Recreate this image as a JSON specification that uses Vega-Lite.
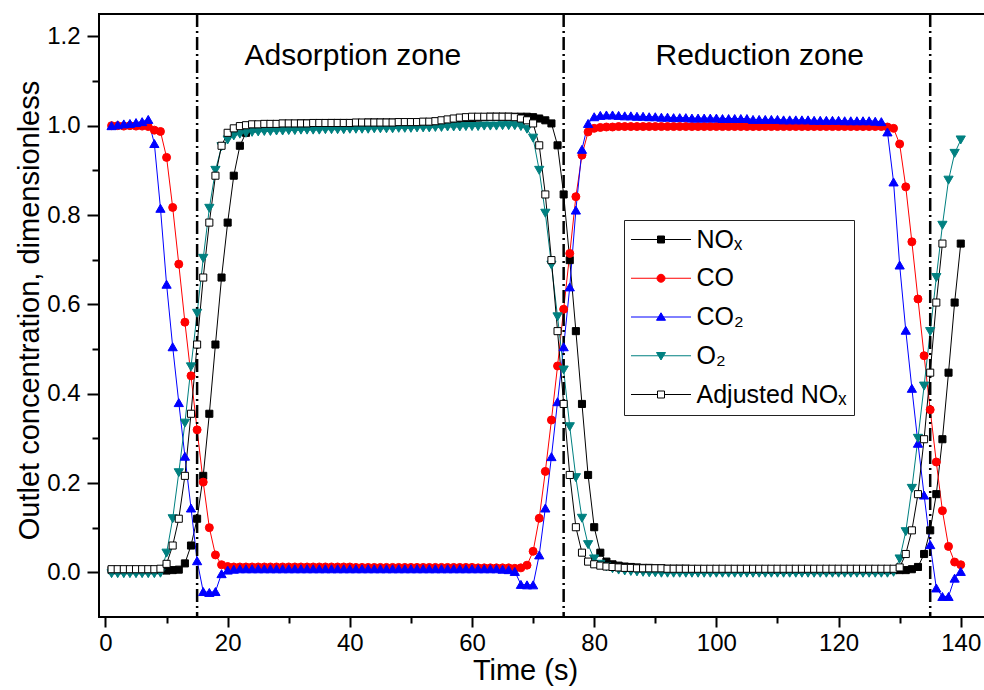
{
"$schema":"https://vega.github.io/schema/vega-lite/v6.json",
"width":886,"height":603,
"autosize":{"type":"none"},
"padding":{"left":99,"top":14,"right":0,"bottom":73},
"background":"white",
"config":{"font":"Liberation Sans","view":{"stroke":"black","strokeWidth":2}},
"datasets":{
"series":[{"series":"NOx","idx":1},{"series":"CO","idx":2},{"series":"CO2","idx":3},{"series":"O2","idx":4},{"series":"AdjNOx","idx":5}],
"cycles":[{"t":15},{"t":75},{"t":135}],
"zones":[{"label":"Adsorption zone","t":40.5,"v":1.136},{"label":"Reduction zone","t":107.1,"v":1.136}],
"conc":[
{"t":1,"NOx":0.005,"CO":1,"CO2":1,"O2":-0.003,"AdjNOx":0.007},
{"t":2,"NOx":0.005,"CO":1,"CO2":1.002,"O2":-0.003,"AdjNOx":0.007},
{"t":3,"NOx":0.005,"CO":0.999,"CO2":1.004,"O2":-0.003,"AdjNOx":0.007},
{"t":4,"NOx":0.005,"CO":1,"CO2":1.005,"O2":-0.003,"AdjNOx":0.007},
{"t":5,"NOx":0.005,"CO":0.999,"CO2":1.007,"O2":-0.003,"AdjNOx":0.007},
{"t":6,"NOx":0.005,"CO":0.999,"CO2":1.009,"O2":-0.003,"AdjNOx":0.007},
{"t":7,"NOx":0.005,"CO":0.998,"CO2":1.014,"O2":-0.003,"AdjNOx":0.007},
{"t":8,"NOx":0.005,"CO":0.99,"CO2":0.96,"O2":-0.003,"AdjNOx":0.007},
{"t":9,"NOx":0.005,"CO":0.987,"CO2":0.815,"O2":-0.002,"AdjNOx":0.008},
{"t":10,"NOx":0.004,"CO":0.929,"CO2":0.645,"O2":0.043,"AdjNOx":0.019},
{"t":11,"NOx":0.005,"CO":0.817,"CO2":0.505,"O2":0.12,"AdjNOx":0.06},
{"t":12,"NOx":0.006,"CO":0.69,"CO2":0.38,"O2":0.223,"AdjNOx":0.12},
{"t":13,"NOx":0.02,"CO":0.56,"CO2":0.26,"O2":0.334,"AdjNOx":0.216},
{"t":14,"NOx":0.06,"CO":0.44,"CO2":0.144,"O2":0.46,"AdjNOx":0.355},
{"t":15,"NOx":0.12,"CO":0.319,"CO2":0.026,"O2":0.58,"AdjNOx":0.51},
{"t":16,"NOx":0.216,"CO":0.202,"CO2":-0.043,"O2":0.703,"AdjNOx":0.66},
{"t":17,"NOx":0.355,"CO":0.1,"CO2":-0.045,"O2":0.815,"AdjNOx":0.783},
{"t":18,"NOx":0.51,"CO":0.039,"CO2":-0.043,"O2":0.9,"AdjNOx":0.888},
{"t":19,"NOx":0.66,"CO":0.017,"CO2":-0.003,"O2":0.953,"AdjNOx":0.955},
{"t":20,"NOx":0.783,"CO":0.013,"CO2":0.005,"O2":0.968,"AdjNOx":0.984},
{"t":21,"NOx":0.888,"CO":0.012,"CO2":0.007,"O2":0.977,"AdjNOx":0.994},
{"t":22,"NOx":0.955,"CO":0.012,"CO2":0.008,"O2":0.981,"AdjNOx":0.999},
{"t":23,"NOx":0.984,"CO":0.012,"CO2":0.008,"O2":0.983,"AdjNOx":1.001},
{"t":24,"NOx":0.994,"CO":0.012,"CO2":0.008,"O2":0.985,"AdjNOx":1.003},
{"t":25,"NOx":0.999,"CO":0.012,"CO2":0.008,"O2":0.986,"AdjNOx":1.003},
{"t":26,"NOx":1.001,"CO":0.012,"CO2":0.008,"O2":0.987,"AdjNOx":1.004},
{"t":27,"NOx":1.003,"CO":0.012,"CO2":0.008,"O2":0.987,"AdjNOx":1.004},
{"t":28,"NOx":1.003,"CO":0.012,"CO2":0.008,"O2":0.988,"AdjNOx":1.004},
{"t":29,"NOx":1.004,"CO":0.012,"CO2":0.008,"O2":0.988,"AdjNOx":1.005},
{"t":30,"NOx":1.004,"CO":0.012,"CO2":0.008,"O2":0.989,"AdjNOx":1.005},
{"t":31,"NOx":1.004,"CO":0.012,"CO2":0.008,"O2":0.989,"AdjNOx":1.005},
{"t":32,"NOx":1.005,"CO":0.012,"CO2":0.008,"O2":0.99,"AdjNOx":1.005},
{"t":33,"NOx":1.005,"CO":0.012,"CO2":0.008,"O2":0.99,"AdjNOx":1.005},
{"t":34,"NOx":1.005,"CO":0.012,"CO2":0.008,"O2":0.99,"AdjNOx":1.006},
{"t":35,"NOx":1.005,"CO":0.012,"CO2":0.008,"O2":0.99,"AdjNOx":1.006},
{"t":36,"NOx":1.005,"CO":0.012,"CO2":0.008,"O2":0.991,"AdjNOx":1.006},
{"t":37,"NOx":1.006,"CO":0.012,"CO2":0.008,"O2":0.991,"AdjNOx":1.006},
{"t":38,"NOx":1.006,"CO":0.012,"CO2":0.008,"O2":0.991,"AdjNOx":1.006},
{"t":39,"NOx":1.006,"CO":0.012,"CO2":0.008,"O2":0.991,"AdjNOx":1.006},
{"t":40,"NOx":1.006,"CO":0.012,"CO2":0.008,"O2":0.992,"AdjNOx":1.006},
{"t":41,"NOx":1.006,"CO":0.011,"CO2":0.008,"O2":0.992,"AdjNOx":1.007},
{"t":42,"NOx":1.006,"CO":0.011,"CO2":0.008,"O2":0.992,"AdjNOx":1.007},
{"t":43,"NOx":1.007,"CO":0.011,"CO2":0.008,"O2":0.992,"AdjNOx":1.007},
{"t":44,"NOx":1.007,"CO":0.011,"CO2":0.008,"O2":0.993,"AdjNOx":1.007},
{"t":45,"NOx":1.007,"CO":0.011,"CO2":0.008,"O2":0.993,"AdjNOx":1.007},
{"t":46,"NOx":1.007,"CO":0.011,"CO2":0.008,"O2":0.993,"AdjNOx":1.007},
{"t":47,"NOx":1.007,"CO":0.011,"CO2":0.008,"O2":0.993,"AdjNOx":1.007},
{"t":48,"NOx":1.007,"CO":0.011,"CO2":0.008,"O2":0.994,"AdjNOx":1.008},
{"t":49,"NOx":1.007,"CO":0.011,"CO2":0.008,"O2":0.994,"AdjNOx":1.008},
{"t":50,"NOx":1.008,"CO":0.011,"CO2":0.008,"O2":0.994,"AdjNOx":1.008},
{"t":51,"NOx":1.008,"CO":0.011,"CO2":0.008,"O2":0.995,"AdjNOx":1.008},
{"t":52,"NOx":1.008,"CO":0.011,"CO2":0.008,"O2":0.995,"AdjNOx":1.009},
{"t":53,"NOx":1.008,"CO":0.011,"CO2":0.008,"O2":0.995,"AdjNOx":1.009},
{"t":54,"NOx":1.009,"CO":0.011,"CO2":0.008,"O2":0.996,"AdjNOx":1.01},
{"t":55,"NOx":1.009,"CO":0.011,"CO2":0.008,"O2":0.996,"AdjNOx":1.012},
{"t":56,"NOx":1.01,"CO":0.011,"CO2":0.008,"O2":0.997,"AdjNOx":1.014},
{"t":57,"NOx":1.01,"CO":0.011,"CO2":0.008,"O2":0.997,"AdjNOx":1.016},
{"t":58,"NOx":1.012,"CO":0.011,"CO2":0.008,"O2":0.997,"AdjNOx":1.018},
{"t":59,"NOx":1.014,"CO":0.011,"CO2":0.008,"O2":0.998,"AdjNOx":1.019},
{"t":60,"NOx":1.016,"CO":0.011,"CO2":0.008,"O2":0.998,"AdjNOx":1.02},
{"t":61,"NOx":1.018,"CO":0.01,"CO2":0.008,"O2":0.998,"AdjNOx":1.02},
{"t":62,"NOx":1.019,"CO":0.01,"CO2":0.008,"O2":0.999,"AdjNOx":1.02},
{"t":63,"NOx":1.02,"CO":0.01,"CO2":0.008,"O2":0.999,"AdjNOx":1.02},
{"t":64,"NOx":1.02,"CO":0.01,"CO2":0.008,"O2":0.999,"AdjNOx":1.02},
{"t":65,"NOx":1.02,"CO":0.01,"CO2":0.007,"O2":1,"AdjNOx":1.02},
{"t":66,"NOx":1.02,"CO":0.01,"CO2":0.006,"O2":1,"AdjNOx":1.02},
{"t":67,"NOx":1.02,"CO":0.009,"CO2":0.002,"O2":1,"AdjNOx":1.019},
{"t":68,"NOx":1.02,"CO":0.01,"CO2":-0.027,"O2":0.998,"AdjNOx":1.016},
{"t":69,"NOx":1.02,"CO":0.016,"CO2":-0.028,"O2":0.992,"AdjNOx":1.012},
{"t":70,"NOx":1.019,"CO":0.047,"CO2":-0.028,"O2":0.972,"AdjNOx":1.005},
{"t":71,"NOx":1.016,"CO":0.121,"CO2":0.039,"O2":0.9,"AdjNOx":0.956},
{"t":72,"NOx":1.012,"CO":0.226,"CO2":0.144,"O2":0.804,"AdjNOx":0.846},
{"t":73,"NOx":1.005,"CO":0.341,"CO2":0.259,"O2":0.688,"AdjNOx":0.699},
{"t":74,"NOx":0.956,"CO":0.462,"CO2":0.382,"O2":0.572,"AdjNOx":0.54},
{"t":75,"NOx":0.846,"CO":0.589,"CO2":0.505,"O2":0.453,"AdjNOx":0.377},
{"t":76,"NOx":0.699,"CO":0.714,"CO2":0.639,"O2":0.326,"AdjNOx":0.218},
{"t":77,"NOx":0.54,"CO":0.841,"CO2":0.811,"O2":0.212,"AdjNOx":0.101},
{"t":78,"NOx":0.377,"CO":0.934,"CO2":0.947,"O2":0.121,"AdjNOx":0.044},
{"t":79,"NOx":0.218,"CO":0.986,"CO2":1.005,"O2":0.062,"AdjNOx":0.024},
{"t":80,"NOx":0.101,"CO":0.994,"CO2":1.02,"O2":0.03,"AdjNOx":0.018},
{"t":81,"NOx":0.044,"CO":0.996,"CO2":1.023,"O2":0.018,"AdjNOx":0.015},
{"t":82,"NOx":0.024,"CO":0.997,"CO2":1.024,"O2":0.012,"AdjNOx":0.013},
{"t":83,"NOx":0.018,"CO":0.997,"CO2":1.024,"O2":0.008,"AdjNOx":0.012},
{"t":84,"NOx":0.015,"CO":0.998,"CO2":1.023,"O2":0.005,"AdjNOx":0.011},
{"t":85,"NOx":0.013,"CO":0.998,"CO2":1.022,"O2":0.003,"AdjNOx":0.01},
{"t":86,"NOx":0.012,"CO":0.998,"CO2":1.022,"O2":0.002,"AdjNOx":0.01},
{"t":87,"NOx":0.011,"CO":0.998,"CO2":1.021,"O2":0.001,"AdjNOx":0.009},
{"t":88,"NOx":0.01,"CO":0.998,"CO2":1.021,"O2":0,"AdjNOx":0.009},
{"t":89,"NOx":0.01,"CO":0.998,"CO2":1.02,"O2":-0.001,"AdjNOx":0.009},
{"t":90,"NOx":0.009,"CO":0.998,"CO2":1.02,"O2":-0.001,"AdjNOx":0.009},
{"t":91,"NOx":0.009,"CO":0.998,"CO2":1.019,"O2":-0.002,"AdjNOx":0.009},
{"t":92,"NOx":0.008,"CO":0.998,"CO2":1.019,"O2":-0.002,"AdjNOx":0.008},
{"t":93,"NOx":0.008,"CO":0.998,"CO2":1.018,"O2":-0.002,"AdjNOx":0.008},
{"t":94,"NOx":0.008,"CO":0.998,"CO2":1.018,"O2":-0.002,"AdjNOx":0.008},
{"t":95,"NOx":0.008,"CO":0.998,"CO2":1.018,"O2":-0.002,"AdjNOx":0.008},
{"t":96,"NOx":0.007,"CO":0.998,"CO2":1.017,"O2":-0.002,"AdjNOx":0.008},
{"t":97,"NOx":0.007,"CO":0.998,"CO2":1.017,"O2":-0.002,"AdjNOx":0.008},
{"t":98,"NOx":0.007,"CO":0.998,"CO2":1.017,"O2":-0.002,"AdjNOx":0.008},
{"t":99,"NOx":0.007,"CO":0.998,"CO2":1.017,"O2":-0.002,"AdjNOx":0.008},
{"t":100,"NOx":0.007,"CO":0.998,"CO2":1.017,"O2":-0.002,"AdjNOx":0.008},
{"t":101,"NOx":0.007,"CO":0.998,"CO2":1.016,"O2":-0.002,"AdjNOx":0.008},
{"t":102,"NOx":0.007,"CO":0.998,"CO2":1.016,"O2":-0.002,"AdjNOx":0.008},
{"t":103,"NOx":0.007,"CO":0.998,"CO2":1.016,"O2":-0.002,"AdjNOx":0.008},
{"t":104,"NOx":0.007,"CO":0.998,"CO2":1.016,"O2":-0.002,"AdjNOx":0.008},
{"t":105,"NOx":0.007,"CO":0.998,"CO2":1.016,"O2":-0.002,"AdjNOx":0.008},
{"t":106,"NOx":0.006,"CO":0.998,"CO2":1.014,"O2":-0.002,"AdjNOx":0.008},
{"t":107,"NOx":0.006,"CO":0.998,"CO2":1.014,"O2":-0.002,"AdjNOx":0.008},
{"t":108,"NOx":0.006,"CO":0.998,"CO2":1.014,"O2":-0.002,"AdjNOx":0.008},
{"t":109,"NOx":0.006,"CO":0.998,"CO2":1.014,"O2":-0.002,"AdjNOx":0.008},
{"t":110,"NOx":0.006,"CO":0.998,"CO2":1.014,"O2":-0.002,"AdjNOx":0.008},
{"t":111,"NOx":0.006,"CO":0.998,"CO2":1.013,"O2":-0.002,"AdjNOx":0.008},
{"t":112,"NOx":0.006,"CO":0.998,"CO2":1.013,"O2":-0.002,"AdjNOx":0.008},
{"t":113,"NOx":0.006,"CO":0.998,"CO2":1.013,"O2":-0.002,"AdjNOx":0.008},
{"t":114,"NOx":0.006,"CO":0.998,"CO2":1.013,"O2":-0.002,"AdjNOx":0.008},
{"t":115,"NOx":0.006,"CO":0.998,"CO2":1.013,"O2":-0.002,"AdjNOx":0.008},
{"t":116,"NOx":0.005,"CO":0.998,"CO2":1.012,"O2":-0.002,"AdjNOx":0.008},
{"t":117,"NOx":0.005,"CO":0.998,"CO2":1.012,"O2":-0.002,"AdjNOx":0.008},
{"t":118,"NOx":0.005,"CO":0.998,"CO2":1.012,"O2":-0.002,"AdjNOx":0.008},
{"t":119,"NOx":0.005,"CO":0.998,"CO2":1.012,"O2":-0.002,"AdjNOx":0.008},
{"t":120,"NOx":0.005,"CO":0.998,"CO2":1.012,"O2":-0.002,"AdjNOx":0.008},
{"t":121,"NOx":0.005,"CO":0.998,"CO2":1.011,"O2":-0.002,"AdjNOx":0.008},
{"t":122,"NOx":0.005,"CO":0.998,"CO2":1.011,"O2":-0.002,"AdjNOx":0.008},
{"t":123,"NOx":0.005,"CO":0.998,"CO2":1.011,"O2":-0.002,"AdjNOx":0.008},
{"t":124,"NOx":0.005,"CO":0.998,"CO2":1.011,"O2":-0.002,"AdjNOx":0.008},
{"t":125,"NOx":0.005,"CO":0.998,"CO2":1.011,"O2":-0.002,"AdjNOx":0.008},
{"t":126,"NOx":0.005,"CO":0.998,"CO2":1.01,"O2":-0.002,"AdjNOx":0.008},
{"t":127,"NOx":0.005,"CO":0.998,"CO2":1.009,"O2":-0.002,"AdjNOx":0.008},
{"t":128,"NOx":0.005,"CO":0.997,"CO2":0.986,"O2":-0.002,"AdjNOx":0.008},
{"t":129,"NOx":0.005,"CO":0.994,"CO2":0.874,"O2":0,"AdjNOx":0.008},
{"t":130,"NOx":0.005,"CO":0.959,"CO2":0.688,"O2":0.03,"AdjNOx":0.011},
{"t":131,"NOx":0.005,"CO":0.863,"CO2":0.542,"O2":0.091,"AdjNOx":0.041},
{"t":132,"NOx":0.007,"CO":0.74,"CO2":0.412,"O2":0.188,"AdjNOx":0.094},
{"t":133,"NOx":0.012,"CO":0.612,"CO2":0.289,"O2":0.3,"AdjNOx":0.175},
{"t":134,"NOx":0.041,"CO":0.485,"CO2":0.173,"O2":0.417,"AdjNOx":0.298},
{"t":135,"NOx":0.094,"CO":0.364,"CO2":0.062,"O2":0.539,"AdjNOx":0.447},
{"t":136,"NOx":0.175,"CO":0.247,"CO2":-0.035,"O2":0.66,"AdjNOx":0.604},
{"t":137,"NOx":0.298,"CO":0.138,"CO2":-0.054,"O2":0.777,"AdjNOx":0.736},
{"t":138,"NOx":0.447,"CO":0.058,"CO2":-0.054,"O2":0.878,"AdjNOx":null},
{"t":139,"NOx":0.604,"CO":0.023,"CO2":-0.013,"O2":0.938,"AdjNOx":null},
{"t":140,"NOx":0.736,"CO":0.017,"CO2":0.002,"O2":0.968,"AdjNOx":null}
]},
"layer":[
{"data":{"name":"conc"},
 "transform":[{"fold":["NOx","CO","CO2","O2","AdjNOx"],"as":["key","v"]}],
 "mark":{"type":"line","strokeWidth":1},
 "encoding":{
  "x":{"field":"t","type":"quantitative","scale":{"domain":[-1.06,143.97],"nice":false,"zero":false},
   "axis":{"title":"Time (s)","values":[0,10,20,30,40,50,60,70,80,90,100,110,120,130,140],"format":"d",
    "labelExpr":"datum.value % 20 == 0 ? datum.label : ''",
    "tickSize":{"condition":{"test":"datum.value % 20 == 0","value":10},"value":6},
    "tickWidth":2,"tickColor":"black",
    "domain":false,"grid":false,"labelFont":"Liberation Sans","labelFontSize":24,"labelColor":"black","labelPadding":4,"labelOverlap":false,"labelFlush":false,
    "titleFont":"Liberation Sans","titleFontSize":29,"titleFontWeight":"normal","titleColor":"black","titleAlign":"center","titleBaseline":"alphabetic","titleX":426,"titleY":62}},
  "y":{"field":"v","type":"quantitative","scale":{"domain":[-0.1,1.25],"nice":false,"zero":false},
   "axis":{"title":"Outlet concentration, dimensionless","values":[0,0.1,0.2,0.3,0.4,0.5,0.6,0.7,0.8,0.9,1,1.1,1.2],"format":".1f",
    "labelExpr":"round(datum.value*10) % 2 == 0 ? datum.label : ''",
    "tickSize":{"condition":{"test":"round(datum.value*10) % 2 == 0","value":12},"value":7},
    "tickWidth":2,"tickColor":"black",
    "domain":false,"grid":false,"labelFont":"Liberation Sans","labelFontSize":24,"labelColor":"black","labelPadding":7,"labelOverlap":false,"labelFlush":false,
    "titleFont":"Liberation Sans","titleFontSize":29,"titleFontWeight":"normal","titleColor":"black","titleAngle":270,"titleAlign":"center","titleBaseline":"alphabetic","titleX":-61,"titleY":296}},
  "stroke":{"field":"key","type":"nominal",
   "scale":{"domain":["NOx","CO","CO2","O2","AdjNOx"],"range":["#000000","#ff0000","#0000ff","#008080","#000000"]},
   "legend":{"title":null,"orient":"none","legendX":525,"legendY":206,"direction":"vertical",
    "strokeColor":"#222222","fillColor":"white","padding":7,"rowPadding":12.75,
    "symbolSize":100,"symbolStrokeWidth":1,"symbolOffset":17.5,"labelOffset":23,
    "labelFont":"Liberation Sans","labelFontSize":25,"labelColor":"black","labelLimit":400,
    "labelExpr":"datum.label == 'NOx' ? 'NOₓ' : datum.label == 'CO2' ? 'CO₂' : datum.label == 'O2' ? 'O₂' : datum.label == 'AdjNOx' ? 'Adjusted NOₓ' : datum.label",
    "encode":{"symbols":{"update":{
      "shape":{"signal":"datum.value == 'NOx' ? 'M-6,0H6M-0.7,-0.7H0.7V0.7H-0.7Z' : datum.value == 'AdjNOx' ? 'M-6,0H-0.7M0.7,0H6M-0.7,-0.7H0.7V0.7H-0.7Z' : datum.value == 'CO' ? 'M-6,0H6M-0.8,0A0.8,0.8,0,1,0,0.8,0A0.8,0.8,0,1,0,-0.8,0Z' : datum.value == 'CO2' ? 'M-6,0H6M0,-0.85L0.9,0.65H-0.9Z' : 'M-6,0H6M0,0.85L0.9,-0.65H-0.9Z'"},
      "fill":{"signal":"datum.value == 'NOx' ? '#000000' : datum.value == 'CO' ? '#ff0000' : datum.value == 'CO2' ? '#0000ff' : datum.value == 'O2' ? '#008080' : '#ffffff'"},
      "strokeWidth":{"value":1},
      "opacity":{"value":1}}}}}}}},
{"data":{"name":"cycles"},
 "mark":{"type":"rule","color":"black","strokeWidth":2.5,"strokeDash":[13,4,2,4]},
 "encoding":{"x":{"field":"t","type":"quantitative","scale":{"domain":[-1.06,143.97],"nice":false,"zero":false}}}},
{"data":{"name":"conc"},
 "transform":[{"fold":["NOx","CO","CO2","O2","AdjNOx"],"as":["series","v"]},{"lookup":"series","from":{"data":{"name":"series"},"key":"series","fields":["idx"]}}],
 "mark":{"type":"point","filled":true,"opacity":1,"strokeWidth":1},
 "encoding":{
  "x":{"field":"t","type":"quantitative","scale":{"domain":[-1.06,143.97],"nice":false,"zero":false}},
  "y":{"field":"v","type":"quantitative","scale":{"domain":[-0.1,1.25],"nice":false,"zero":false}},
  "stroke":{"field":"series","type":"nominal","scale":{"domain":["NOx","CO","CO2","O2","AdjNOx"],"range":["#000000","#ff0000","#0000ff","#008080","#000000"]},"legend":null},
  "fill":{"field":"series","type":"nominal","scale":{"range":["#ffffff","#ff0000","#0000ff","#000000","#008080"]},"legend":null},
  "shape":{"field":"series","type":"nominal","scale":{"range":["square","circle","triangle-up","square","triangle-down"]},"legend":null},
  "size":{"field":"series","type":"nominal","scale":{"type":"ordinal","range":[50,64,85,50,85]},"legend":null},
  "order":{"field":"idx","type":"quantitative"}}},
{"data":{"name":"zones"},
 "mark":{"type":"text","font":"Liberation Sans","fontSize":30,"color":"black","align":"center","baseline":"alphabetic"},
 "encoding":{
  "x":{"field":"t","type":"quantitative","scale":{"domain":[-1.06,143.97],"nice":false,"zero":false}},
  "y":{"field":"v","type":"quantitative","scale":{"domain":[-0.1,1.25],"nice":false,"zero":false}},
  "text":{"field":"label","type":"nominal"}}}
]
}
